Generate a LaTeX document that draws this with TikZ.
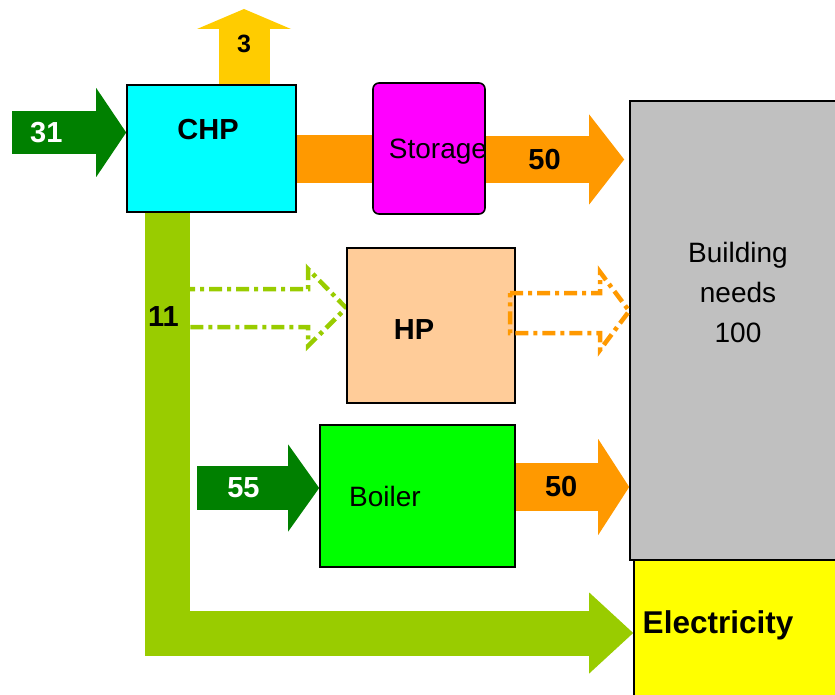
\documentclass[tikz,border=0pt]{standalone}
\usepackage{fontspec}
\setmainfont{Liberation Sans}
\usetikzlibrary{arrows.meta,calc,backgrounds}
\definecolor{chpcyan}{HTML}{00FFFF}
\definecolor{stormag}{HTML}{FF00FF}
\definecolor{hppeach}{HTML}{FFCC99}
\definecolor{boilgreen}{HTML}{00FF00}
\definecolor{needgray}{HTML}{C0C0C0}
\definecolor{elyellow}{HTML}{FFFF00}
\definecolor{gasgreen}{HTML}{008000}
\definecolor{heatorange}{HTML}{FF9900}
\definecolor{lossgold}{HTML}{FFCC00}
\definecolor{elgreen}{HTML}{99CC00}

\begin{document}
\begin{tikzpicture}[
    x=1pt,
    y=-1pt,
    box/.style={rectangle, draw=black, line width=1.6pt, inner sep=0pt},
    numlbl/.style={font=\fontsize{29}{34}\selectfont\bfseries},
    txtlbl/.style={font=\fontsize{28}{40}\selectfont},
    flow/.style={line width=#1, line join=miter},
    dashflow/.style={line width=4.5pt, dash pattern=on 13pt off 5pt on 4pt off 5pt}
  ]
    \useasboundingbox (0,0) rectangle (835,695);
    \clip (0,0) rectangle (835,695);

    % conversion units and demand
    \node[box, fill=chpcyan, minimum width=169pt, minimum height=127pt,
      label={[numlbl, anchor=center, xshift=-3.5pt, yshift=-45pt]north:CHP}] (chp) at (211.5,148.5) {};
    \node[box, fill=stormag, rounded corners=6pt, minimum width=112pt, minimum height=131pt,
      label={[txtlbl, anchor=center, xshift=9pt, yshift=-69.5pt]north:Storage}] (storage) at (429,148.5) {};
    \node[box, fill=hppeach, minimum width=168pt, minimum height=155pt,
      label={[numlbl, anchor=center, xshift=-17pt, yshift=-82pt]north:HP}] (hp) at (431,325.5) {};
    \node[box, fill=boilgreen, minimum width=195pt, minimum height=142pt,
      label={[txtlbl, anchor=center, xshift=-32.5pt, yshift=-72pt]north:Boiler}] (boiler) at (417.5,496) {};
    \node[box, fill=needgray, minimum width=216pt, minimum height=459pt,
      label={[txtlbl, align=center, anchor=center, yshift=-192pt]north:Building\\needs\\100}] (bldg) at (738,330.5) {};
    \node[box, fill=elyellow, minimum width=212pt, minimum height=150pt,
      label={[font=\fontsize{31.5}{36}\selectfont\bfseries, anchor=west, xshift=6pt, yshift=10pt]west:Electricity}] (elec) at (740,635) {};

    \begin{scope}[on background layer]
      % fuel in, losses out
      \coordinate (in31) at (12,132.5);
      \draw[flow=43pt, draw=gasgreen, -{Triangle[length=30pt, width=89pt, line width=0pt]}]
        (in31) -- (in31 -| chp.west) node[numlbl, text=white, pos=0.3] {31};
      \coordinate (out3) at (244,9);
      \draw[flow=51pt, draw=lossgold, -{Triangle[length=20pt, width=94pt, line width=0pt]}]
        (out3 |- chp.north) -- (out3) node[font=\fontsize{25}{30}\selectfont\bfseries, pos=0.53] {3};

      % heat via storage
      \draw[flow=48pt, draw=heatorange] (chp.east |- 0,159) -- (storage.west |- 0,159);
      \draw[flow=47pt, draw=heatorange, -{Triangle[length=35pt, width=90pt, line width=0pt]}, shorten >=5pt]
        (storage.east |- 0,159.5) -- (bldg.west |- 0,159.5) node[numlbl, pos=0.41] {50};

      % heat pump supply (option)
      \draw[dashflow, draw=elgreen] (182,289) -- (308,289) -- (308,269) -- (hp.west |- 0,308)
        -- (308,346) -- (308,327) -- (182,327) -- cycle;

      % electricity
      \draw[flow=45pt, draw=elgreen, -{Triangle[length=44pt, width=81pt, line width=0pt]}]
        (chp.south -| 167.5,0) |- (elec.west |- 0,633) node[numlbl, pos=0.124, xshift=-4pt] {11};

      % boiler
      \coordinate (in55) at (197,488);
      \draw[flow=44pt, draw=gasgreen, -{Triangle[length=31pt, width=87pt, line width=0pt]}]
        (in55) -- (in55 -| boiler.west) node[numlbl, text=white, pos=0.38] {55};
      \draw[flow=48pt, draw=heatorange, -{Triangle[length=31pt, width=96pt, line width=0pt]}]
        (boiler.east |- 0,487) -- (bldg.west |- 0,487) node[numlbl, pos=0.4] {50};
    \end{scope}

    \draw[dashflow, draw=heatorange] (510,293) -- (600,293) -- (600,272) -- (bldg.west |- 0,311)
      -- (600,350) -- (600,333) -- (510,333) -- cycle;
  \end{tikzpicture}
\end{document}
